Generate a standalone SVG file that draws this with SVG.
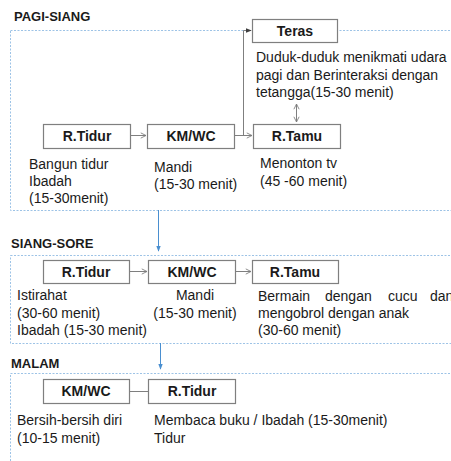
<svg xmlns="http://www.w3.org/2000/svg" width="451" height="461" viewBox="0 0 451 461">
<style>
.bg{fill:#fff}
.sec{fill:none;stroke:#9dc3e6;stroke-width:1;stroke-dasharray:2 1.5}
.title{font-family:"Liberation Sans",Arial,sans-serif;font-weight:bold;font-size:13px;fill:#1a1a1a}
.box{fill:#fff;stroke:#7f7f7f;stroke-width:1.2}
.lbl{font-family:"Liberation Sans",Arial,sans-serif;font-weight:bold;font-size:14px;fill:#1a1a1a;text-anchor:middle}
.txt{font-family:"Liberation Sans",Arial,sans-serif;font-size:14px;fill:#1a1a1a}
.gl{fill:none;stroke:#7f7f7f;stroke-width:1}
.bl{fill:none;stroke:#4a8fd0;stroke-width:1}
</style>
<defs>
<marker id="ga" viewBox="0 0 8 8" refX="7" refY="4" markerWidth="7" markerHeight="7" orient="auto" markerUnits="userSpaceOnUse">
<path d="M1,1 L7,4 L1,7" fill="none" stroke="#7f7f7f" stroke-width="1"/>
</marker>
<marker id="gs" viewBox="0 0 8 8" refX="1" refY="4" markerWidth="7" markerHeight="7" orient="auto" markerUnits="userSpaceOnUse">
<path d="M7,1 L1,4 L7,7" fill="none" stroke="#7f7f7f" stroke-width="1"/>
</marker>
<marker id="da" viewBox="0 0 8 8" refX="7" refY="4" markerWidth="6" markerHeight="6" orient="auto" markerUnits="userSpaceOnUse">
<path d="M0,1 L8,4 L0,7 Z" fill="#404040"/>
</marker>
<marker id="ba" viewBox="0 0 8 8" refX="7" refY="4" markerWidth="6" markerHeight="6" orient="auto" markerUnits="userSpaceOnUse">
<path d="M0,1 L8,4 L0,7 Z" fill="#4a8fd0"/>
</marker>
</defs>
<rect class="bg" x="0" y="0" width="451" height="461"/>

<g id="sections">
<rect class="sec" x="10.5" y="30.5" width="460" height="180"/>
<rect class="sec" x="10.5" y="255.5" width="460" height="88"/>
<rect class="sec" x="10.5" y="373.5" width="460" height="100"/>
<text class="title" x="14" y="21">PAGI-SIANG</text>
<text class="title" x="11" y="248">SIANG-SORE</text>
<text class="title" x="11" y="368">MALAM</text>
</g>

<g id="connectors">
<line class="gl" x1="130" y1="135.5" x2="146" y2="135.5" marker-end="url(#ga)"/>
<line class="gl" x1="234" y1="135.5" x2="252" y2="135.5" marker-end="url(#ga)"/>
<polyline class="gl" points="243.5,135.5 243.5,30.5 251,30.5" marker-end="url(#da)"/>
<line class="gl" x1="296.5" y1="104" x2="296.5" y2="122" marker-start="url(#gs)" marker-end="url(#ga)"/>
<line class="bl" x1="158.5" y1="210" x2="158.5" y2="251" marker-end="url(#ba)"/>
<line class="gl" x1="129" y1="271.5" x2="147" y2="271.5" marker-end="url(#ga)"/>
<line class="gl" x1="235" y1="271.5" x2="251" y2="271.5" marker-end="url(#ga)"/>
<line class="bl" x1="160.5" y1="343" x2="160.5" y2="369" marker-end="url(#ba)"/>
<line class="gl" x1="129" y1="391.5" x2="148" y2="391.5"/>
</g>

<g id="teras">
<rect class="box" x="252.5" y="19.5" width="85" height="23"/>
<text class="lbl" x="295" y="36">Teras</text>
<text class="txt" x="256" y="62">Duduk-duduk menikmati udara</text>
<text class="txt" x="256" y="80">pagi dan Berinteraksi dengan</text>
<text class="txt" x="256" y="97">tetangga(15-30 menit)</text>
</g>

<g id="pagi-rtidur">
<rect class="box" x="43.5" y="124.5" width="87" height="24"/>
<text class="lbl" x="87" y="141">R.Tidur</text>
<text class="txt" x="29" y="169">Bangun tidur</text>
<text class="txt" x="29" y="186">Ibadah</text>
<text class="txt" x="29" y="203">(15-30menit)</text>
</g>

<g id="pagi-kmwc">
<rect class="box" x="147.5" y="124.5" width="87" height="24"/>
<text class="lbl" x="191" y="141">KM/WC</text>
<text class="txt" x="154" y="172">Mandi</text>
<text class="txt" x="154" y="189">(15-30 menit)</text>
</g>

<g id="pagi-rtamu">
<rect class="box" x="253.5" y="124.5" width="87" height="24"/>
<text class="lbl" x="297" y="141">R.Tamu</text>
<text class="txt" x="260" y="168">Menonton tv</text>
<text class="txt" x="260" y="186">(45 -60 menit)</text>
</g>

<g id="siang-rtidur">
<rect class="box" x="43.5" y="260.5" width="86" height="23"/>
<text class="lbl" x="86" y="277">R.Tidur</text>
<text class="txt" x="17" y="300">Istirahat</text>
<text class="txt" x="17" y="318">(30-60 menit)</text>
<text class="txt" x="17" y="335">Ibadah (15-30 menit)</text>
</g>

<g id="siang-kmwc">
<rect class="box" x="148.5" y="260.5" width="87" height="23"/>
<text class="lbl" x="192" y="277">KM/WC</text>
<text class="txt" x="195" y="300" text-anchor="middle">Mandi</text>
<text class="txt" x="195" y="318" text-anchor="middle">(15-30 menit)</text>
</g>

<g id="siang-rtamu">
<rect class="box" x="252.5" y="260.5" width="86" height="23"/>
<text class="lbl" x="295" y="277">R.Tamu</text>
<text class="txt" y="301"><tspan x="258">Bermain</tspan><tspan x="325">dengan</tspan><tspan x="388">cucu</tspan><tspan x="430">dan</tspan></text>
<text class="txt" x="258" y="318">mengobrol dengan anak</text>
<text class="txt" x="258" y="335">(30-60 menit)</text>
</g>

<g id="malam-kmwc">
<rect class="box" x="43.5" y="379.5" width="86" height="24"/>
<text class="lbl" x="86" y="396">KM/WC</text>
<text class="txt" x="17" y="425">Bersih-bersih diri</text>
<text class="txt" x="17" y="443">(10-15 menit)</text>
</g>

<g id="malam-rtidur">
<rect class="box" x="148.5" y="379.5" width="87" height="24"/>
<text class="lbl" x="192" y="396">R.Tidur</text>
<text class="txt" x="154" y="425">Membaca buku / Ibadah (15-30menit)</text>
<text class="txt" x="154" y="443">Tidur</text>
</g>
</svg>
